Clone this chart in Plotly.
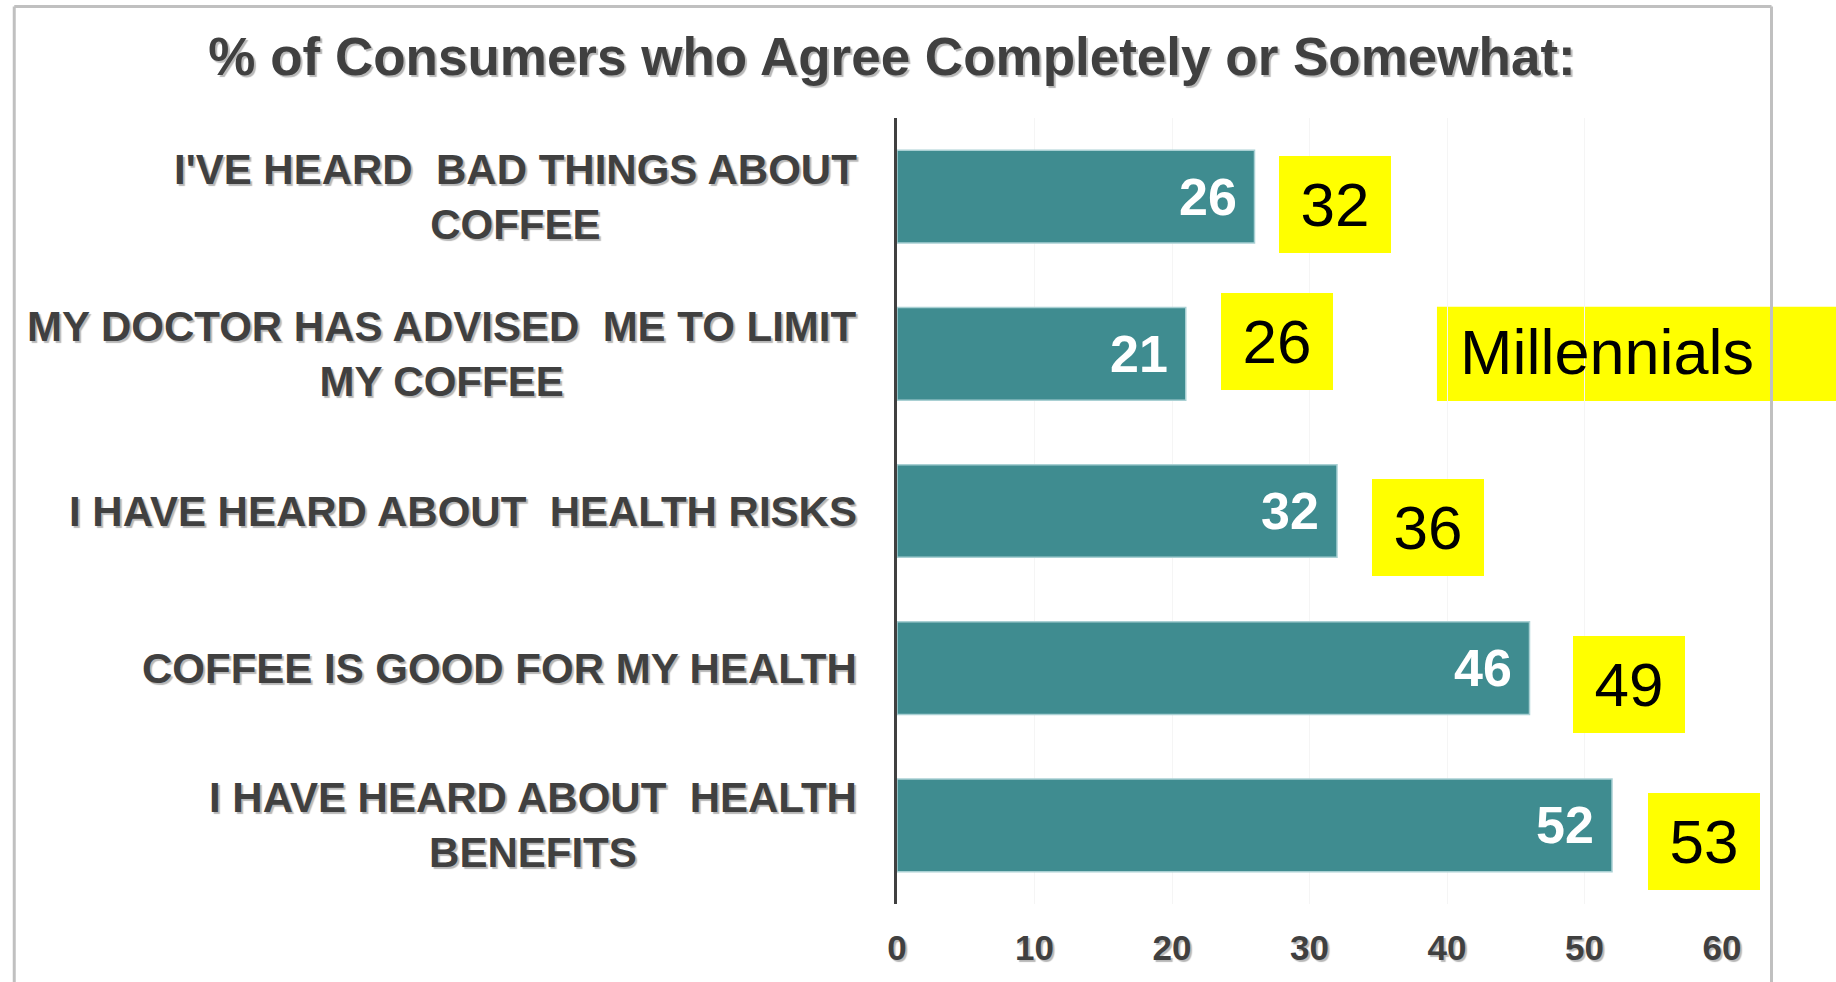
import plotly.graph_objects as go

# ---------------- data ----------------
categories = [
    "I'VE HEARD  BAD THINGS ABOUT<br>COFFEE",
    "MY DOCTOR HAS ADVISED  ME TO LIMIT<br>MY COFFEE",
    "I HAVE HEARD ABOUT  HEALTH RISKS",
    "COFFEE IS GOOD FOR MY HEALTH",
    "I HAVE HEARD ABOUT  HEALTH<br>BENEFITS",
]
all_consumers = [26, 21, 32, 46, 52]
millennials = [32, 26, 36, 49, 53]
x_ticks = [0, 10, 20, 30, 40, 50, 60]
title_text = "% of Consumers who Agree Completely or Somewhat:"
badge_text = "Millennials"

# ---------------- styles ----------------
FONT = "Liberation Sans, Arial, sans-serif"
DARK = "#404040"
TEAL = "#3F8C90"
YELLOW = "#FFFF00"
SHADOW = "2px 2px 1px #b8b8b8"
box_dx = [24, 35, 35, 43, 36]      # pixel gap from bar end to yellow box
box_dy = [-8, 12, -16, -16, -16]   # vertical nudge of yellow box

ypos = list(range(len(categories)))

fig = go.Figure()
fig.add_trace(go.Bar(
    x=all_consumers,
    y=ypos,
    orientation="h",
    marker=dict(color=TEAL, line=dict(color="#A9D0D3", width=1.5)),
    width=0.59,
    hoverinfo="skip",
))

annotations = []
# category labels
for i, c in enumerate(categories):
    annotations.append(dict(
        x=0, xref="paper", y=ypos[i], yref="y",
        xanchor="right", yanchor="middle", xshift=-38,
        text="<b>%s</b>" % c, align="center", showarrow=False,
        font=dict(family=FONT, size=42, color=DARK, shadow=SHADOW),
    ))
# value labels inside bars
for i, v in enumerate(all_consumers):
    annotations.append(dict(
        x=v, xref="x", y=ypos[i], yref="y",
        xanchor="right", yanchor="middle", xshift=-16,
        text="<b>%d</b>" % v, showarrow=False,
        font=dict(family=FONT, size=52, color="white"),
    ))
# millennials yellow boxes
for i, (v, m) in enumerate(zip(all_consumers, millennials)):
    annotations.append(dict(
        x=v, xref="x", y=ypos[i], yref="y",
        xanchor="left", yanchor="middle", xshift=box_dx[i], yshift=box_dy[i],
        text=str(m), showarrow=False, width=112, height=97,
        bgcolor=YELLOW, borderpad=0, borderwidth=0, align="center", valign="middle",
        font=dict(family=FONT, size=62, color="black"),
    ))
# Millennials badge text
annotations.append(dict(
    x=0.68, xref="paper", y=1, yref="y",
    xanchor="left", yanchor="middle", yshift=2,
    text=badge_text, showarrow=False,
    font=dict(family=FONT, size=63, color="black"),
))

shapes = [
    # Millennials badge background
    dict(type="rect", xref="paper", yref="y", x0=0.6545, x1=1.3, y0=0.7, y1=1.3,
         fillcolor=YELLOW, line=dict(width=0), layer="below"),
    # chart border
    dict(type="line", xref="paper", yref="paper", x0=-1.07, x1=1.06, y0=1.142, y1=1.142,
         line=dict(color="#C0C0C0", width=3)),
    dict(type="line", xref="paper", yref="paper", x0=-1.07, x1=-1.07, y0=1.142, y1=-0.2,
         line=dict(color="#C0C0C0", width=3)),
    dict(type="line", xref="paper", yref="paper", x0=1.06, x1=1.06, y0=1.142, y1=-0.2,
         line=dict(color="#C0C0C0", width=3)),
]

fig.update_layout(
    width=1836, height=982,
    margin=dict(l=897, r=114, t=118, b=78),
    paper_bgcolor="white", plot_bgcolor="white",
    showlegend=False,
    title=dict(
        text="<b>%s</b>" % title_text,
        x=892 / 1836, xanchor="center", xref="container",
        y=1 - 56 / 982, yanchor="middle", yref="container",
        font=dict(family=FONT, size=53, color=DARK, shadow=SHADOW),
    ),
    xaxis=dict(
        range=[0, 60], tickvals=x_ticks, showgrid=True, gridcolor="#F5F5F5",
        zeroline=False, showline=False, ticks="",
        ticklabelstandoff=20,
        tickfont=dict(family=FONT, size=35, color=DARK, weight="bold", shadow=SHADOW),
    ),
    yaxis=dict(
        range=[4.5, -0.5], showticklabels=False, showgrid=False, zeroline=False,
        showline=True, linecolor=DARK, linewidth=3, ticks="",
    ),
    annotations=annotations,
    shapes=shapes,
)

fig.write_html("out.html")
